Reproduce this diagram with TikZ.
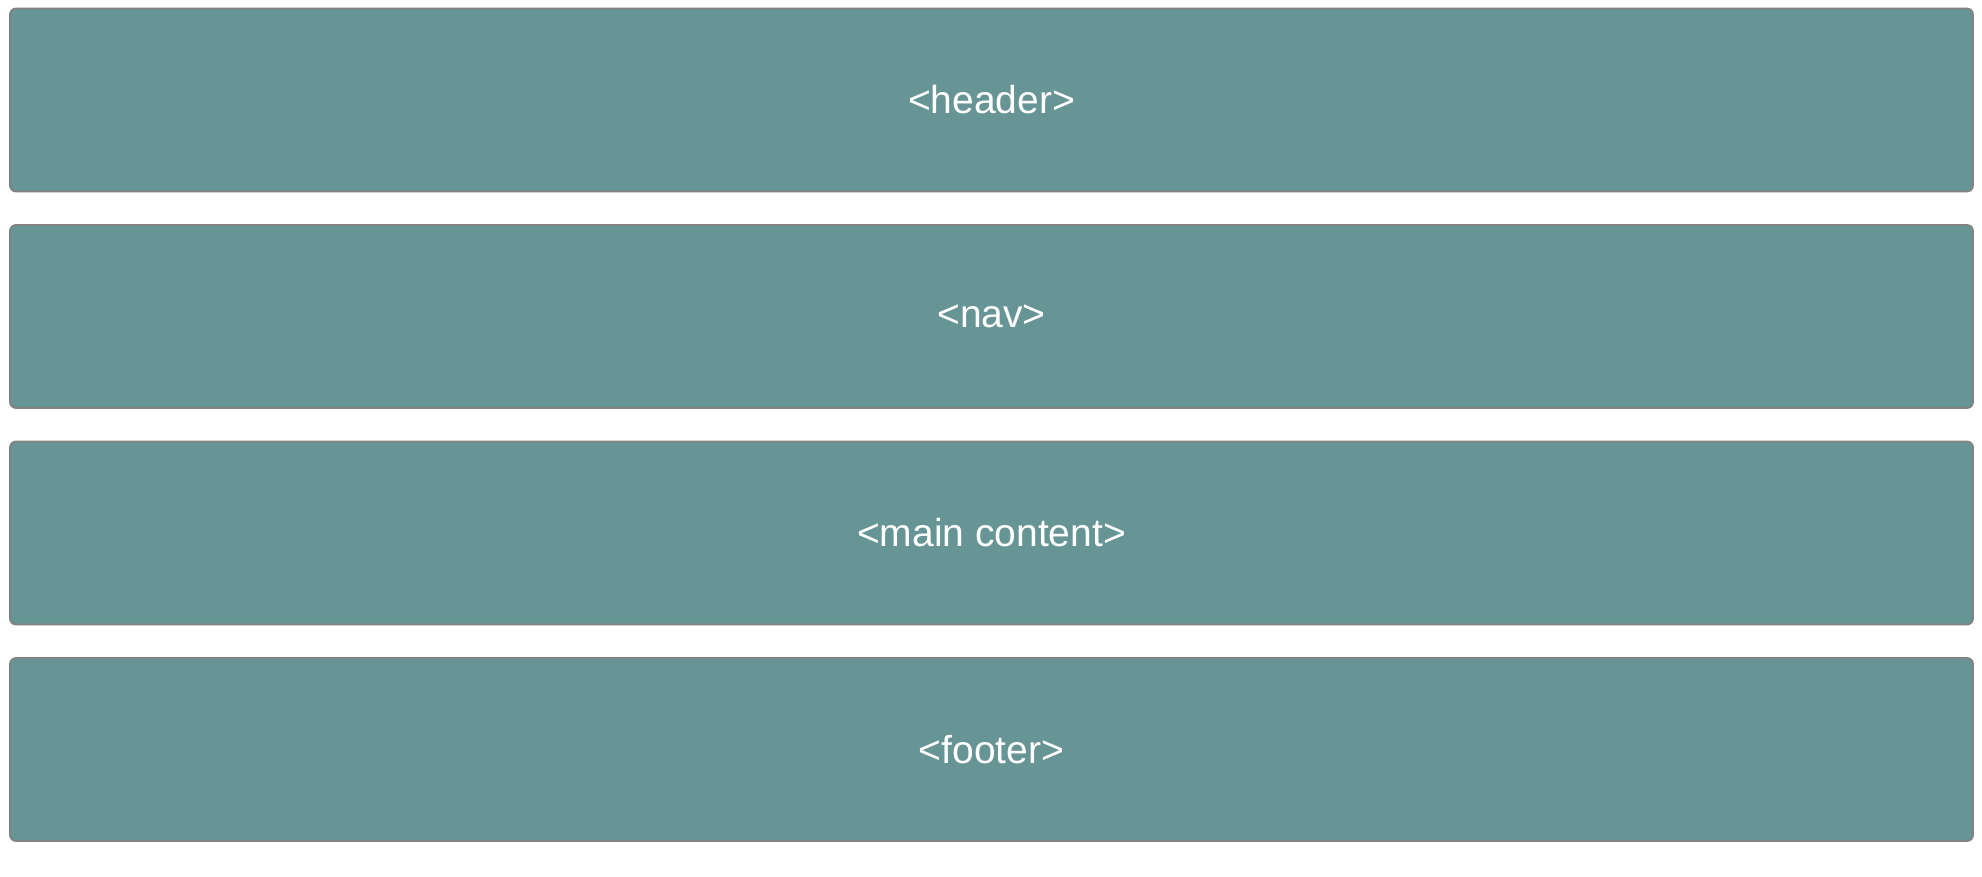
\documentclass[tikz,border=0pt]{standalone}
\usepackage{fontspec}
\setmainfont{Liberation Sans}
\definecolor{panelfill}{HTML}{679494}
\definecolor{panelline}{HTML}{828282}
\begin{document}
\begin{tikzpicture}[x=1pt,y=-1pt,
  panel/.style={draw=panelline, line width=1.8pt, fill=panelfill,
    rounded corners=6pt, minimum width=1963pt, minimum height=183pt,
    inner sep=0pt, text=white, font=\fontsize{39}{46}\selectfont},
]
\useasboundingbox (0,0) rectangle (1982,876);
\node[panel] (header) at (991.5,100) {<header>};
\node[panel] (nav)    at (991.5,316.5) {<nav>};
\node[panel] (main)   at (991.5,533) {<main content>};
\node[panel] (footer) at (991.5,749.5) {<footer>};
\end{tikzpicture}
\end{document}
